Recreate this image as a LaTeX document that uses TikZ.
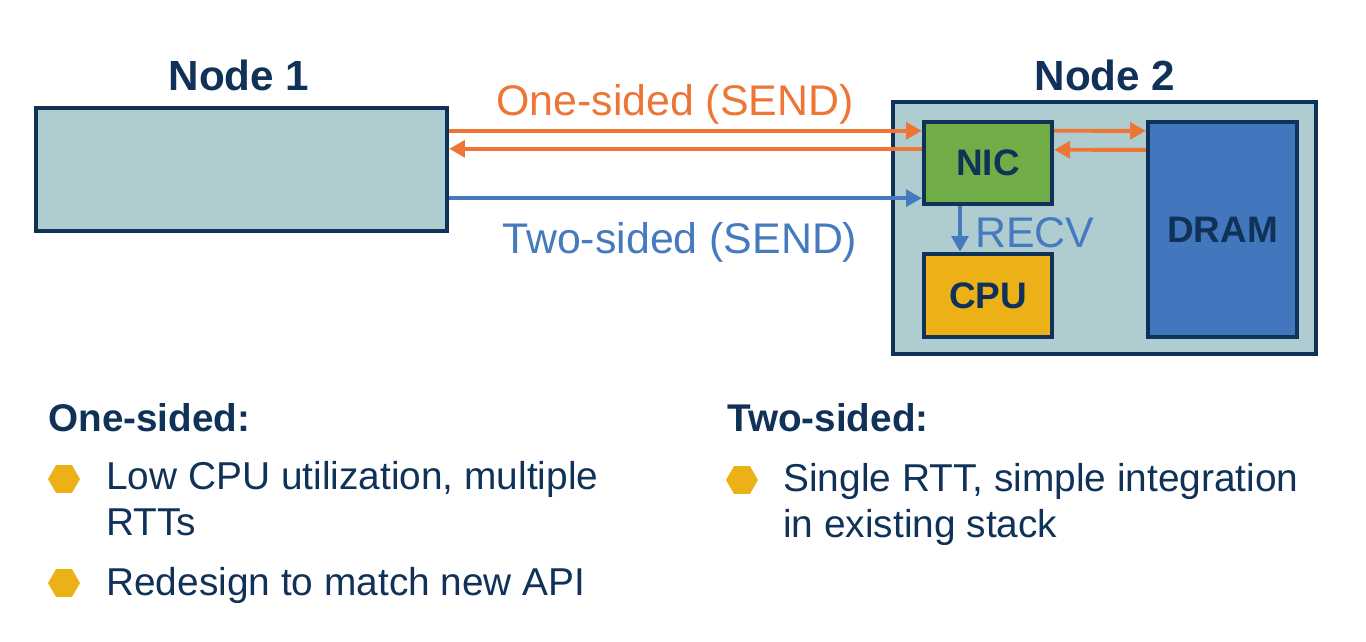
\documentclass[tikz,border=0pt]{standalone}
\usepackage{fontspec}
\setmainfont{Liberation Sans}
\usetikzlibrary{arrows.meta,calc,shapes.geometric}
\definecolor{navy}{RGB}{16,50,88}
\definecolor{boxteal}{RGB}{175,205,209}
\definecolor{sendorange}{RGB}{237,118,55}
\definecolor{sendblue}{RGB}{70,122,190}
\definecolor{nicgreen}{RGB}{112,173,71}
\definecolor{cpuyellow}{RGB}{237,177,24}
\definecolor{dramblue}{RGB}{66,118,189}
\begin{document}
\begin{tikzpicture}[x=0.02cm,y=-0.02cm,
    box/.style={draw=navy,line width=2.5pt,inner sep=0pt},
    chip/.style={box,text=navy,font=\fontsize{21}{25}\selectfont\bfseries},
    title/.style={text=navy,font=\fontsize{24}{28}\selectfont\bfseries},
    heading/.style={anchor=base west,inner sep=0pt,text=navy,font=\fontsize{22}{26}\selectfont\bfseries},
    item/.style={anchor=base west,inner sep=0pt,align=left,text=navy,font=\fontsize{22.1}{26}\selectfont},
    label/.style={anchor=base west,inner sep=0pt,font=\fontsize{24.4}{28}\selectfont},
    oarrow/.style={color=sendorange,line width=2.2pt,-{Triangle[length=9pt,width=9.5pt]}},
    barrow/.style={oarrow,color=sendblue},
    hexbullet/.style={regular polygon,regular polygon sides=6,fill=cpuyellow,minimum size=0.64cm,inner sep=0pt}]
    \useasboundingbox (0,0) rectangle (1366,642);
    %% the two nodes
    \node[box,fill=boxteal,minimum width=8.22cm,minimum height=2.46cm] (node1) at (241.5,169.5) {};
    \node[box,fill=boxteal,minimum width=8.46cm,minimum height=5.04cm] (node2) at (1104.5,228) {};
    \node[title,anchor=base] (t1) at (239,91) {Node 1};
    \node[title,anchor=base] (t2) at (1105,91) {Node 2};
    %% parts of node 2
    \node[chip,fill=nicgreen,minimum width=2.56cm,minimum height=1.64cm] (nic) at (988,163) {NIC};
    \node[chip,fill=cpuyellow,minimum width=2.56cm,minimum height=1.66cm] (cpu) at (988,295.5) {CPU};
    \node[chip,fill=dramblue,minimum width=2.98cm,minimum height=4.3cm] (dram) at (1222.5,229.5) {DRAM};
    %% arrows
    \draw[oarrow] ($(node1.east|-nic.north)+(0,11)$) -- ($(nic.north west)+(0,11)$);
    \draw[oarrow] ($(nic.north west)+(0,29)$) -- ($(node1.east|-nic.north)+(0,29)$);
    \draw[barrow] ($(node1.east|-nic.south)+(0,-8)$) -- ($(nic.south west)+(0,-8)$);
    \draw[oarrow] ($(nic.north east)+(0,11)$) -- ($(dram.north west)+(0,11)$);
    \draw[oarrow] ($(dram.north west)+(0,30)$) -- ($(nic.north east)+(0,30)$);
    \draw[barrow] ($(nic.south)+(-28,0)$) -- ($(cpu.north)+(-28,0)$);
    %% labels
    \node[label,text=sendorange] (l1) at (496,115) {One-sided (SEND)};
    \node[label,text=sendblue] (l2) at (502,253) {Two-sided (SEND)};
    \node[label,text=sendblue] (l3) at (975,247) {RECV};
    %% notes
    \node[heading] (h1) at (48,431) {One-sided:};
    \node[heading] (h2) at (727,431) {Two-sided:};
    \node[hexbullet] (b1) at (64,479) {};
    \node[hexbullet] (b2) at (64,583) {};
    \node[hexbullet] (b3) at (742,480) {};
    \node[item] (i1) at (106,535) {Low CPU utilization, multiple\\RTTs};
    \node[item] (i2) at (106,595) {Redesign to match new API};
    \node[item] (i3) at (783,537) {Single RTT, simple integration\\in existing stack};
\end{tikzpicture}
\end{document}
